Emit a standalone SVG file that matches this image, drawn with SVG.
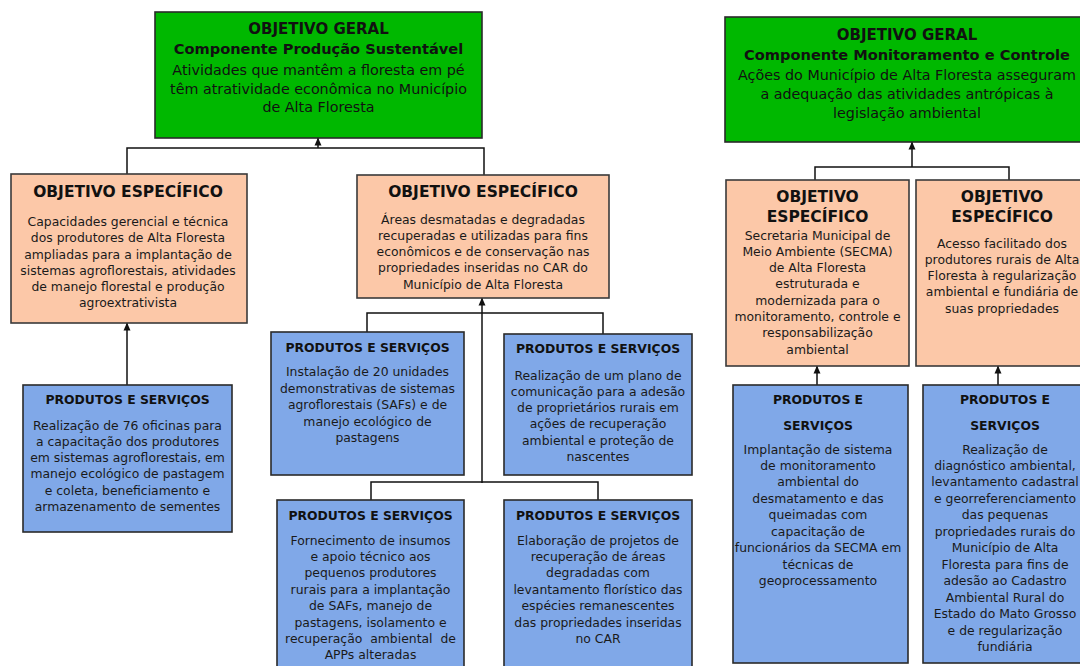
<svg xmlns="http://www.w3.org/2000/svg" width="1080" height="666" viewBox="0 0 1080 666">
<defs>
<marker id="ah" viewBox="0 0 8 8" refX="7.5" refY="4" markerWidth="8" markerHeight="8" markerUnits="userSpaceOnUse" orient="auto">
<path d="M0,0.5 L8,4 L0,7.5 Z" fill="#111"/>
</marker>
<style>
.g{fill:#00B800;stroke:#2a2a2a;stroke-width:1.6}
.o{fill:#FCC8A8;stroke:#3a3a3a;stroke-width:1.6}
.p{fill:#80A8E8;stroke:#2a2a2a;stroke-width:1.6}
text{font-family:"DejaVu Sans","Noto Sans",sans-serif;fill:#111;text-anchor:middle}
.h{font-weight:bold;font-size:15px}
.c{font-weight:bold;font-size:14.6px}
.m{font-size:14.3px}
.e{font-weight:bold;font-size:15.5px}
.s{font-weight:bold;font-size:12.4px}
.b{font-size:12.4px;fill:#1a1a1a}
.ln{fill:none;stroke:#111;stroke-width:1.5}
</style>
</defs>

<g id="connectors">
<path class="ln" d="M127,175 V148 H484 V175"/>
<path class="ln" d="M318,148 V138" marker-end="url(#ah)"/>
<path class="ln" d="M127,385 V323" marker-end="url(#ah)"/>
<path class="ln" d="M482,483 V298" marker-end="url(#ah)"/>
<path class="ln" d="M367,332 V313 H603 V334"/>
<path class="ln" d="M371,500 V482 H598 V500"/>
<path class="ln" d="M815,180 V167 H1009 V180"/>
<path class="ln" d="M912,167 V142" marker-end="url(#ah)"/>
<path class="ln" d="M817,385 V366" marker-end="url(#ah)"/>
<path class="ln" d="M998,385 V366" marker-end="url(#ah)"/>
</g>

<g id="geral-producao">
<rect class="g" x="155" y="12" width="327" height="126"/>
<text class="h" x="318.5" y="33.5">OBJETIVO GERAL</text>
<text class="c" x="318.5" y="53.5">Componente Produção Sustentável</text>
<text class="m" x="318.5" y="75">Atividades que mantêm a floresta em pé</text>
<text class="m" x="318.5" y="93.5">têm atratividade econômica no Município</text>
<text class="m" x="318.5" y="112">de Alta Floresta</text>
</g>

<g id="geral-monitoramento">
<rect class="g" x="725" y="17" width="370" height="125"/>
<text class="h" x="907" y="40">OBJETIVO GERAL</text>
<text class="c" x="907" y="59.5">Componente Monitoramento e Controle</text>
<text class="m" x="907" y="80">Ações do Município de Alta Floresta asseguram</text>
<text class="m" x="907" y="99.3">a adequação das atividades antrópicas à</text>
<text class="m" x="907" y="118.3">legislação ambiental</text>
</g>

<g id="especifico-1">
<rect class="o" x="11" y="174" width="236" height="149"/>
<text class="e" x="128" y="197">OBJETIVO ESPECÍFICO</text>
<text class="b" x="128" y="226">Capacidades gerencial e técnica</text>
<text class="b" x="128" y="242.3">dos produtores de Alta Floresta</text>
<text class="b" x="128" y="258.5">ampliadas para a implantação de</text>
<text class="b" x="128" y="274.5">sistemas agroflorestais, atividades</text>
<text class="b" x="128" y="290.5">de manejo florestal e produção</text>
<text class="b" x="128" y="307">agroextrativista</text>
</g>

<g id="especifico-2">
<rect class="o" x="357" y="175" width="252" height="123"/>
<text class="e" x="483" y="197">OBJETIVO ESPECÍFICO</text>
<text class="b" x="483" y="223.5">Áreas desmatadas e degradadas</text>
<text class="b" x="483" y="239.8">recuperadas e utilizadas para fins</text>
<text class="b" x="483" y="256.1">econômicos e de conservação nas</text>
<text class="b" x="483" y="272.4">propriedades inseridas no CAR do</text>
<text class="b" x="483" y="288.7">Município de Alta Floresta</text>
</g>

<g id="especifico-3">
<rect class="o" x="726" y="180" width="183" height="186"/>
<text class="e" x="817.5" y="201.7">OBJETIVO</text>
<text class="e" x="817.5" y="221.7">ESPECÍFICO</text>
<text class="b" x="817.5" y="239.5">Secretaria Municipal de</text>
<text class="b" x="817.5" y="255.8">Meio Ambiente (SECMA)</text>
<text class="b" x="817.5" y="272.1">de Alta Floresta</text>
<text class="b" x="817.5" y="288.4">estruturada e</text>
<text class="b" x="817.5" y="304.7">modernizada para o</text>
<text class="b" x="817.5" y="321">monitoramento, controle e</text>
<text class="b" x="817.5" y="337.3">responsabilização</text>
<text class="b" x="817.5" y="353.6">ambiental</text>
</g>

<g id="especifico-4">
<rect class="o" x="916" y="180" width="172" height="186"/>
<text class="e" x="1002" y="201.7">OBJETIVO</text>
<text class="e" x="1002" y="221.7">ESPECÍFICO</text>
<text class="b" x="1002" y="247.5">Acesso facilitado dos</text>
<text class="b" x="1002" y="263.8">produtores rurais de Alta</text>
<text class="b" x="1002" y="280.1">Floresta à regularização</text>
<text class="b" x="1002" y="296.4">ambiental e fundiária de</text>
<text class="b" x="1002" y="312.7">suas propriedades</text>
</g>

<g id="produtos-1">
<rect class="p" x="23" y="385" width="209" height="147"/>
<text class="s" x="127.5" y="404">PRODUTOS E SERVIÇOS</text>
<text class="b" x="127.5" y="429.5">Realização de 76 oficinas para</text>
<text class="b" x="127.5" y="445.8">a capacitação dos produtores</text>
<text class="b" x="127.5" y="462.1">em sistemas agroflorestais, em</text>
<text class="b" x="127.5" y="478.4">manejo ecológico de pastagem</text>
<text class="b" x="127.5" y="494.7">e coleta, beneficiamento e</text>
<text class="b" x="127.5" y="511">armazenamento de sementes</text>
</g>

<g id="produtos-2">
<rect class="p" x="271" y="332" width="193" height="143"/>
<text class="s" x="367.5" y="352">PRODUTOS E SERVIÇOS</text>
<text class="b" x="367.5" y="376">Instalação de 20 unidades</text>
<text class="b" x="367.5" y="392.5">demonstrativas de sistemas</text>
<text class="b" x="367.5" y="409">agroflorestais (SAFs) e de</text>
<text class="b" x="367.5" y="425.5">manejo ecológico de</text>
<text class="b" x="367.5" y="442">pastagens</text>
</g>

<g id="produtos-3">
<rect class="p" x="504" y="334" width="188" height="141"/>
<text class="s" x="598" y="353">PRODUTOS E SERVIÇOS</text>
<text class="b" x="598" y="379.5">Realização de um plano de</text>
<text class="b" x="598" y="395.8">comunicação para a adesão</text>
<text class="b" x="598" y="412.1">de proprietários rurais em</text>
<text class="b" x="598" y="428.4">ações de recuperação</text>
<text class="b" x="598" y="444.7">ambiental e proteção de</text>
<text class="b" x="598" y="461">nascentes</text>
</g>

<g id="produtos-4">
<rect class="p" x="277" y="500" width="187" height="170"/>
<text class="s" x="370.5" y="519.5">PRODUTOS E SERVIÇOS</text>
<text class="b" x="370.5" y="544.5">Fornecimento de insumos</text>
<text class="b" x="370.5" y="560.9">e apoio técnico aos</text>
<text class="b" x="370.5" y="577.3">pequenos produtores</text>
<text class="b" x="370.5" y="593.7">rurais para a implantação</text>
<text class="b" x="370.5" y="610.1">de SAFs, manejo de</text>
<text class="b" x="370.5" y="626.5">pastagens, isolamento e</text>
<text class="b" x="370.5" y="642.9" xml:space="preserve">recuperação  ambiental  de</text>
<text class="b" x="370.5" y="659.3">APPs alteradas</text>
</g>

<g id="produtos-5">
<rect class="p" x="504" y="500" width="188" height="170"/>
<text class="s" x="598" y="519.5">PRODUTOS E SERVIÇOS</text>
<text class="b" x="598" y="544.5">Elaboração de projetos de</text>
<text class="b" x="598" y="560.9">recuperação de áreas</text>
<text class="b" x="598" y="577.3">degradadas com</text>
<text class="b" x="598" y="593.7">levantamento florístico das</text>
<text class="b" x="598" y="610.1">espécies remanescentes</text>
<text class="b" x="598" y="626.5">das propriedades inseridas</text>
<text class="b" x="598" y="642.9">no CAR</text>
</g>

<g id="produtos-6">
<rect class="p" x="733" y="385" width="175" height="278"/>
<text class="s" x="818" y="404">PRODUTOS E</text>
<text class="s" x="818" y="429.5">SERVIÇOS</text>
<text class="b" x="818" y="453.5">Implantação de sistema</text>
<text class="b" x="818" y="470">de monitoramento</text>
<text class="b" x="818" y="486.4">ambiental do</text>
<text class="b" x="818" y="502.9">desmatamento e das</text>
<text class="b" x="818" y="519.3">queimadas com</text>
<text class="b" x="818" y="535.8">capacitação de</text>
<text class="b" x="818" y="552.2">funcionários da SECMA em</text>
<text class="b" x="818" y="568.7">técnicas de</text>
<text class="b" x="818" y="585.1">geoprocessamento</text>
</g>

<g id="produtos-7">
<rect class="p" x="923" y="385" width="165" height="278"/>
<text class="s" x="1005" y="404">PRODUTOS E</text>
<text class="s" x="1005" y="429.5">SERVIÇOS</text>
<text class="b" x="1005" y="453.5">Realização de</text>
<text class="b" x="1005" y="470">diagnóstico ambiental,</text>
<text class="b" x="1005" y="486.4">levantamento cadastral</text>
<text class="b" x="1005" y="502.9">e georreferenciamento</text>
<text class="b" x="1005" y="519.3">das pequenas</text>
<text class="b" x="1005" y="535.8">propriedades rurais do</text>
<text class="b" x="1005" y="552.2">Município de Alta</text>
<text class="b" x="1005" y="568.7">Floresta para fins de</text>
<text class="b" x="1005" y="585.1">adesão ao Cadastro</text>
<text class="b" x="1005" y="601.6">Ambiental Rural do</text>
<text class="b" x="1005" y="618">Estado do Mato Grosso</text>
<text class="b" x="1005" y="634.5">e de regularização</text>
<text class="b" x="1005" y="650.9">fundiária</text>
</g>
</svg>
